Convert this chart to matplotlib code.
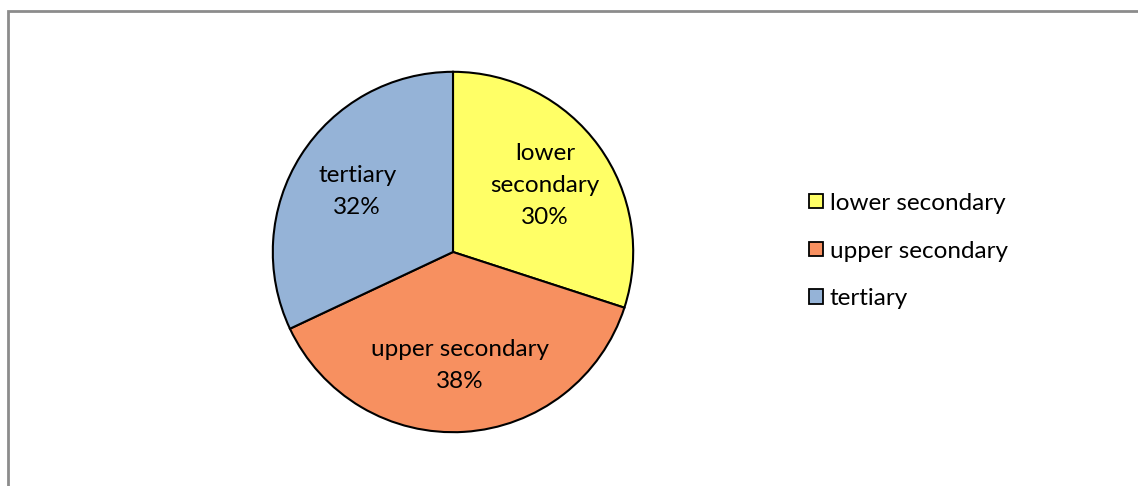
import matplotlib.pyplot as plt
from matplotlib.patches import Patch, Rectangle

plt.rcParams['font.family'] = ['Lato', 'DejaVu Sans']

categories = ['lower secondary', 'upper secondary', 'tertiary']
slice_names = ['lower\nsecondary', 'upper secondary', 'tertiary']
shares = [30, 38, 32]
slice_colours = ['#FFFF66', '#F79060', '#95B3D7']

fig_w, fig_h = 1138, 486
fig = plt.figure(figsize=(fig_w / 100, fig_h / 100), dpi=100)

# grey frame round the chart area (right and bottom run off the edge)
fig.patches.append(Rectangle((7.5 / fig_w, -0.1), 1.2, 1.1 - 10.5 / fig_h,
                             transform=fig.transFigure, fill=False,
                             edgecolor='#8c8c8c', linewidth=2))

# pie centred at (453, 252) px, radius 182 px
cx, cy, r = 453, 252, 182
ax = fig.add_axes([(cx - r) / fig_w, (fig_h - cy - r) / fig_h,
                   2 * r / fig_w, 2 * r / fig_h])

names = iter(slice_names)


def pct_label(p):
    return '{0}\n{1:.0f}%'.format(next(names), p)


wedges, texts, autotexts = ax.pie(
    shares, colors=slice_colours, startangle=90, counterclock=False,
    autopct=pct_label, pctdistance=0.63,
    wedgeprops=dict(edgecolor='black', linewidth=1.5),
    textprops=dict(fontsize=17.5, color='black'))
for t in autotexts:
    t.set_multialignment('center')
    t.set_linespacing(1.65)
ax.set_xlim(-1.01, 1.01)
ax.set_ylim(-1.01, 1.01)
ax.set_aspect('equal')

handles = [Patch(facecolor=c, edgecolor='black', linewidth=1.3) for c in slice_colours]
fig.legend(handles, categories, loc='center left',
           bbox_to_anchor=(797 / fig_w, 1 - 251 / fig_h), frameon=False,
           fontsize=17.5, handlelength=0.55, handleheight=0.55,
           handletextpad=0.3, labelspacing=1.1, borderpad=0)

plt.savefig('out.png', dpi=100)
